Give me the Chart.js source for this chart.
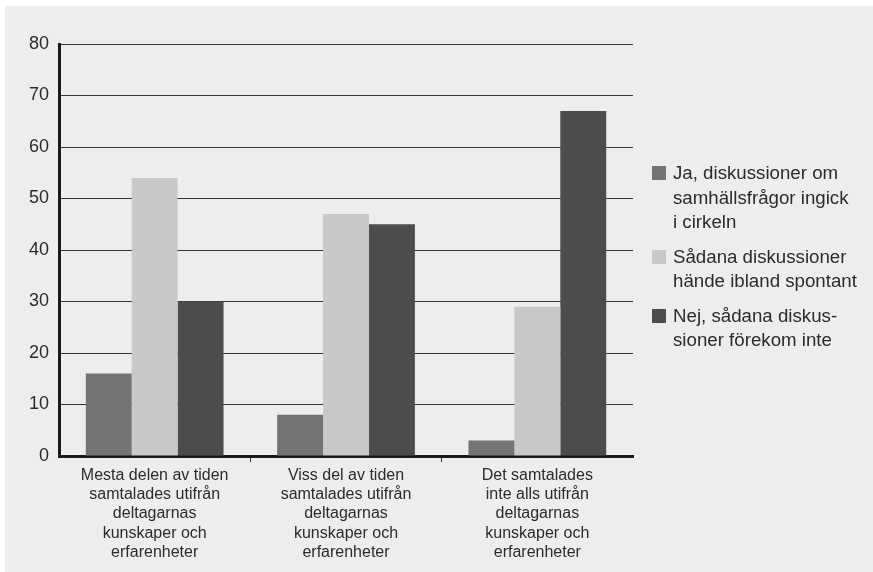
<!DOCTYPE html>
<html lang="sv">
<head>
<meta charset="utf-8">
<script src="https://cdn.jsdelivr.net/npm/chart.js@4"></script>
<style>
  body { margin: 0; background: #fff; font-family: "Liberation Sans", Arial, sans-serif; }
  #wrap { position: relative; width: 873px; height: 572px; overflow: hidden; }
  #bg { position: absolute; left: 5px; top: 6px; width: 868px; height: 566px; background: #ededed; }
  #chartBox { position: absolute; left: 0; top: 0; width: 873px; height: 572px; }
  #legend { position: absolute; left: 652px; top: 161px; margin: 0; padding: 0; list-style: none; color: #2b2b2b; font-size: 18.7px; line-height: 24.5px; }
  #legend li { display: flex; align-items: flex-start; margin-bottom: 10px; white-space: nowrap; }
  #legend .sw { width: 14px; height: 14px; margin-top: 5px; margin-right: 7px; flex: none; }
</style>
</head>
<body>
<div id="wrap">
  <div id="bg"></div>
  <div id="chartBox"><canvas id="chart"></canvas></div>
  <ul id="legend"></ul>
</div>
<script>
// Kategorier (x-axel), flerradiga etiketter
const categories = [
    ['Mesta delen av tiden', 'samtalades utifrån', 'deltagarnas', 'kunskaper och', 'erfarenheter'],
    ['Viss del av tiden', 'samtalades utifrån', 'deltagarnas', 'kunskaper och', 'erfarenheter'],
    ['Det samtalades', 'inte alls utifrån', 'deltagarnas', 'kunskaper och', 'erfarenheter'],
];

// Serier (legendtext radbruten som i originalet)
const seriesNames = [
    ['Ja, diskussioner om', 'samhällsfrågor ingick', 'i cirkeln'],
    ['Sådana diskussioner', 'hände ibland spontant'],
    ['Nej, sådana diskus-', 'sioner förekom inte'],
];
const jaValues = [16, 8, 3];
const iblandValues = [54, 47, 29];
const nejValues = [30, 45, 67];
const seriesColors = ['#747477', '#c7c8ca', '#4b4c4e'];

// y-axel
const yMin = 0;
const yMax = 80;
const yStep = 10;

const textColor = '#2b2b2b';
const lineColor = '#333333';

const seriesValues = [jaValues, iblandValues, nejValues];

new Chart(document.getElementById('chart'), {
    type: 'bar',
    data: {
        labels: categories,
        datasets: seriesValues.map((vals, i) => ({
            label: seriesNames[i].join(' '),
            data: vals,
            backgroundColor: seriesColors[i],
            borderWidth: 0,
            categoryPercentage: 0.72,
            barPercentage: 1.0,
        })),
    },
    options: {
        responsive: true,
        maintainAspectRatio: false,
        animation: false,
        layout: { padding: { top: 44, right: 240, bottom: 0, left: 0 } },
        plugins: {
            legend: { display: false },
            tooltip: { enabled: false },
        },
        scales: {
            x: {
                grid: {
                    offset: true,
                    drawOnChartArea: false,
                    drawTicks: true,
                    tickLength: 6,
                    // bara strecken mellan kategorierna
                    color: (ctx) => (ctx.type === 'tick' && ctx.index > 0) ? lineColor : 'rgba(0,0,0,0)',
                    lineWidth: 1,
                },
                border: { color: '#1a1a1a', width: 3 },
                ticks: {
                    color: textColor,
                    font: { family: '"Liberation Sans", Arial, sans-serif', size: 16, lineHeight: 1.2 },
                    padding: 4,
                    maxRotation: 0,
                    autoSkip: false,
                },
                afterFit: (scale) => { scale.height = 116; },
            },
            y: {
                min: yMin,
                max: yMax,
                ticks: {
                    stepSize: yStep,
                    color: textColor,
                    font: { family: '"Liberation Sans", Arial, sans-serif', size: 18 },
                    padding: 10,
                },
                grid: { color: lineColor, lineWidth: 1, drawTicks: false },
                border: { color: '#1a1a1a', width: 3 },
                afterFit: (scale) => { scale.width = 59; },
            },
        },
    },
});

// HTML-legend med flerradiga texter
const legendEl = document.getElementById('legend');
seriesNames.forEach((lines, i) => {
    const li = document.createElement('li');
    const sw = document.createElement('span');
    sw.className = 'sw';
    sw.style.background = seriesColors[i];
    const txt = document.createElement('span');
    txt.innerHTML = lines.join('<br>');
    li.appendChild(sw);
    li.appendChild(txt);
    legendEl.appendChild(li);
});
</script>
</body>
</html>
